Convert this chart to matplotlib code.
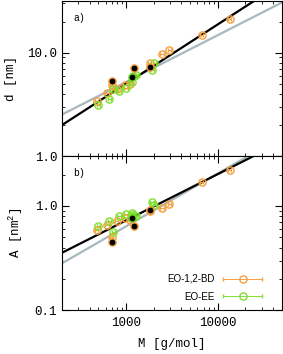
import matplotlib

matplotlib.use("Agg")
import matplotlib.pyplot as plt
import numpy as np
from matplotlib.legend_handler import HandlerErrorbar
from matplotlib.ticker import FixedLocator, FuncFormatter, LogLocator, NullFormatter

plt.rcParams["font.family"] = ["Liberation Mono", "DejaVu Sans Mono"]
plt.rcParams["mathtext.fontset"] = "custom"
plt.rcParams["mathtext.rm"] = "Liberation Mono"

# EO-1,2-BD (orange)
M_bd = [476, 620, 696, 790, 975, 1110, 1803, 2466, 2966, 6660, 13540]
d_bd = [3.45, 4.06, 4.82, 4.45, 4.82, 5.0, 7.9, 9.7, 10.6, 14.9, 21.4]
A_bd = [0.588, 0.656, 0.507, 0.72, 0.76, 0.73, 0.90, 0.95, 1.04, 1.69, 2.22]

# EO-EE (green)
M_ee = [497, 656, 725, 838, 1000, 1155, 1184, 1288, 1915, 2030]
d_ee = [3.09, 3.59, 4.48, 4.25, 4.57, 5.19, 6.0, 6.15, 6.8, 7.9]
A_ee = [0.64, 0.72, 0.566, 0.80, 0.83, 0.86, 0.82, 0.80, 1.10, 1.02]

# black-filled points
M_blk = [696, 1150, 1224, 1803]
d_blk = [5.38, 5.8, 7.12, 7.2]
A_blk = [0.454, 0.76, 0.64, 0.92]
edge_blk = ["#f5a040", "#66dd22", "#f5a040", "#f5a040"]

# power-law fits  y = c * M**b
fit_d_black = (0.0959, 0.573)
fit_d_grey = (0.230, 0.452)
fit_A_black = (0.0341, 0.443)
fit_A_grey = (0.01936, 0.506)

ORANGE = "#f5a040"
GREEN = "#80e030"
GREY = "#a8b8bc"

fig = plt.figure(figsize=(2.83, 3.54), dpi=100)
ax_a = fig.add_axes([0.219, 0.559, 0.777, 0.438])
ax_b = fig.add_axes([0.219, 0.123, 0.777, 0.436])

Mfit = np.logspace(np.log10(200), np.log10(50000), 50)


def draw(ax, y_bd, y_ee, y_blk, fit_black, fit_grey):
    ax.plot(Mfit, fit_grey[0] * Mfit ** fit_grey[1], color=GREY, lw=1.6, zorder=2)
    ax.plot(Mfit, fit_black[0] * Mfit ** fit_black[1], color="black", lw=1.6, zorder=2)
    ax.errorbar(M_bd, y_bd, xerr=np.array(M_bd) * 0.04, fmt="o", ms=5.2, mfc="none",
                mec=ORANGE, mew=1.0, ecolor=ORANGE, elinewidth=0.7, capsize=1.5,
                zorder=3, label="EO-1,2-BD")
    ax.errorbar(M_ee, y_ee, xerr=np.array(M_ee) * 0.04, fmt="o", ms=5.2, mfc="none",
                mec=GREEN, mew=1.0, ecolor=GREEN, elinewidth=0.7, capsize=1.5,
                zorder=3, label="EO-EE")
    for m, y, ec in zip(M_blk, y_blk, edge_blk):
        ax.plot(m, y, "o", ms=5.2, mfc="black", mec=ec, mew=1.0, zorder=4)
    ax.set_xscale("log")
    ax.set_yscale("log")
    ax.set_xlim(200, 50000)
    ax.xaxis.set_minor_locator(LogLocator(base=10, subs=np.arange(2, 10)))
    ax.xaxis.set_minor_formatter(NullFormatter())
    ax.yaxis.set_minor_formatter(NullFormatter())
    ax.tick_params(which="both", direction="in", top=True, right=True, labelsize=9)
    ax.tick_params(which="major", length=5, width=0.8)
    ax.tick_params(which="minor", length=2.5, width=0.6)
    for s in ax.spines.values():
        s.set_linewidth(0.8)


yfmt = FuncFormatter(lambda v, p: f"{v:.1f}")

draw(ax_a, d_bd, d_ee, d_blk, fit_d_black, fit_d_grey)
ax_a.set_ylim(1.0, 31.6)
ax_a.yaxis.set_major_locator(FixedLocator([1.0, 10.0]))
ax_a.yaxis.set_major_formatter(yfmt)
ax_a.set_xticklabels([])
ax_a.set_ylabel("d [nm]", fontsize=9, labelpad=7)
ax_a.text(0.05, 0.87, "a)", transform=ax_a.transAxes, fontsize=7)

draw(ax_b, A_bd, A_ee, A_blk, fit_A_black, fit_A_grey)
ax_b.set_ylim(0.1, 3.0)
ax_b.yaxis.set_major_locator(FixedLocator([0.1, 1.0]))
ax_b.yaxis.set_major_formatter(yfmt)
ax_b.xaxis.set_major_formatter(FuncFormatter(lambda v, p: f"{v:.0f}"))
ax_b.set_ylabel("A [nm$^2$]", fontsize=9, labelpad=7)
ax_b.set_xlabel("M [g/mol]", fontsize=9, labelpad=6)
ax_b.tick_params(axis="x", pad=5)
ax_b.text(0.05, 0.87, "b)", transform=ax_b.transAxes, fontsize=7)

handles, labels = ax_b.get_legend_handles_labels()
leg = ax_b.legend(handles, labels, loc="lower right", frameon=False, markerfirst=False,
                  handlelength=4.2, handletextpad=0.8, labelspacing=0.8,
                  prop={"family": ["Liberation Sans", "DejaVu Sans"], "size": 7},
                  handler_map={type(handles[0]): HandlerErrorbar(xerr_size=2.0)},
                  bbox_to_anchor=(0.955, 0.0))

fig.savefig("out.png", dpi=100)
